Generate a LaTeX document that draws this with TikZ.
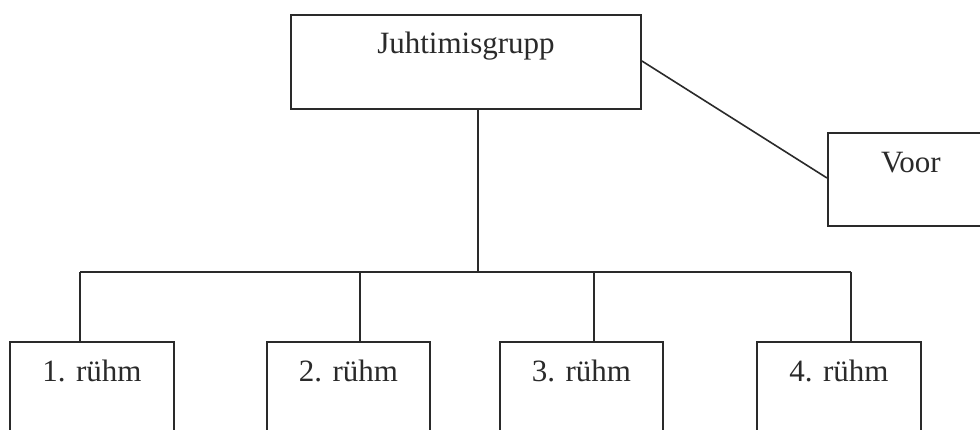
\documentclass[tikz,border=0pt]{standalone}
\usepackage{fontspec}
\setmainfont{Liberation Serif}
\definecolor{ink}{HTML}{2A2A2A}
\begin{document}
\begin{tikzpicture}[x=1pt,y=-1pt,
  box/.style={draw=ink,line width=1.8pt,rectangle,inner sep=0pt,
    font=\fontsize{31}{36}\selectfont,text=ink},
  link/.style={draw=ink,line width=1.6pt}]
\useasboundingbox (0,0) rectangle (980,430);
\clip (0,0) rectangle (980,430);
\fill[white] (0,0) rectangle (980,430);
% top box: x 291..641, y 14..108, baseline ~53
\node[box,anchor=north,minimum width=350pt,text height=39pt,text depth=55pt] (top) at (466,14) {Juhtimisgrupp};
% Voor box: x 827..993, y 132..225
\node[box,anchor=north west,minimum width=166pt,text height=40pt,text depth=53pt] (voor) at (827,132) {Voor};
% children: top 341
\node[box,anchor=north,minimum width=164pt,text height=40pt,text depth=120pt] (r1) at (92,341) {1. rühm};
\node[box,anchor=north,minimum width=163pt,text height=40pt,text depth=120pt] (r2) at (348.5,341) {2. rühm};
\node[box,anchor=north,minimum width=163pt,text height=40pt,text depth=120pt] (r3) at (581.5,341) {3. rühm};
\node[box,anchor=north,minimum width=164pt,text height=40pt,text depth=120pt] (r4) at (839,341) {4. rühm};
% connectors
\coordinate (bus) at (478,272);
\coordinate (c1) at (80,272);
\coordinate (c2) at (360,272);
\coordinate (c3) at (594,272);
\coordinate (c4) at (851,272);
\coordinate (ta) at (641,61);
\coordinate (va) at (827,178);
\draw[link] (top.south -| bus) -- (bus);
\draw[link] (c1) -- (c4);
\draw[link] (c1) -- (r1.north -| c1);
\draw[link] (c2) -- (r2.north -| c2);
\draw[link] (c3) -- (r3.north -| c3);
\draw[link] (c4) -- (r4.north -| c4);
\draw[link] (top.east |- ta) -- (voor.west |- va);
\end{tikzpicture}
\end{document}
